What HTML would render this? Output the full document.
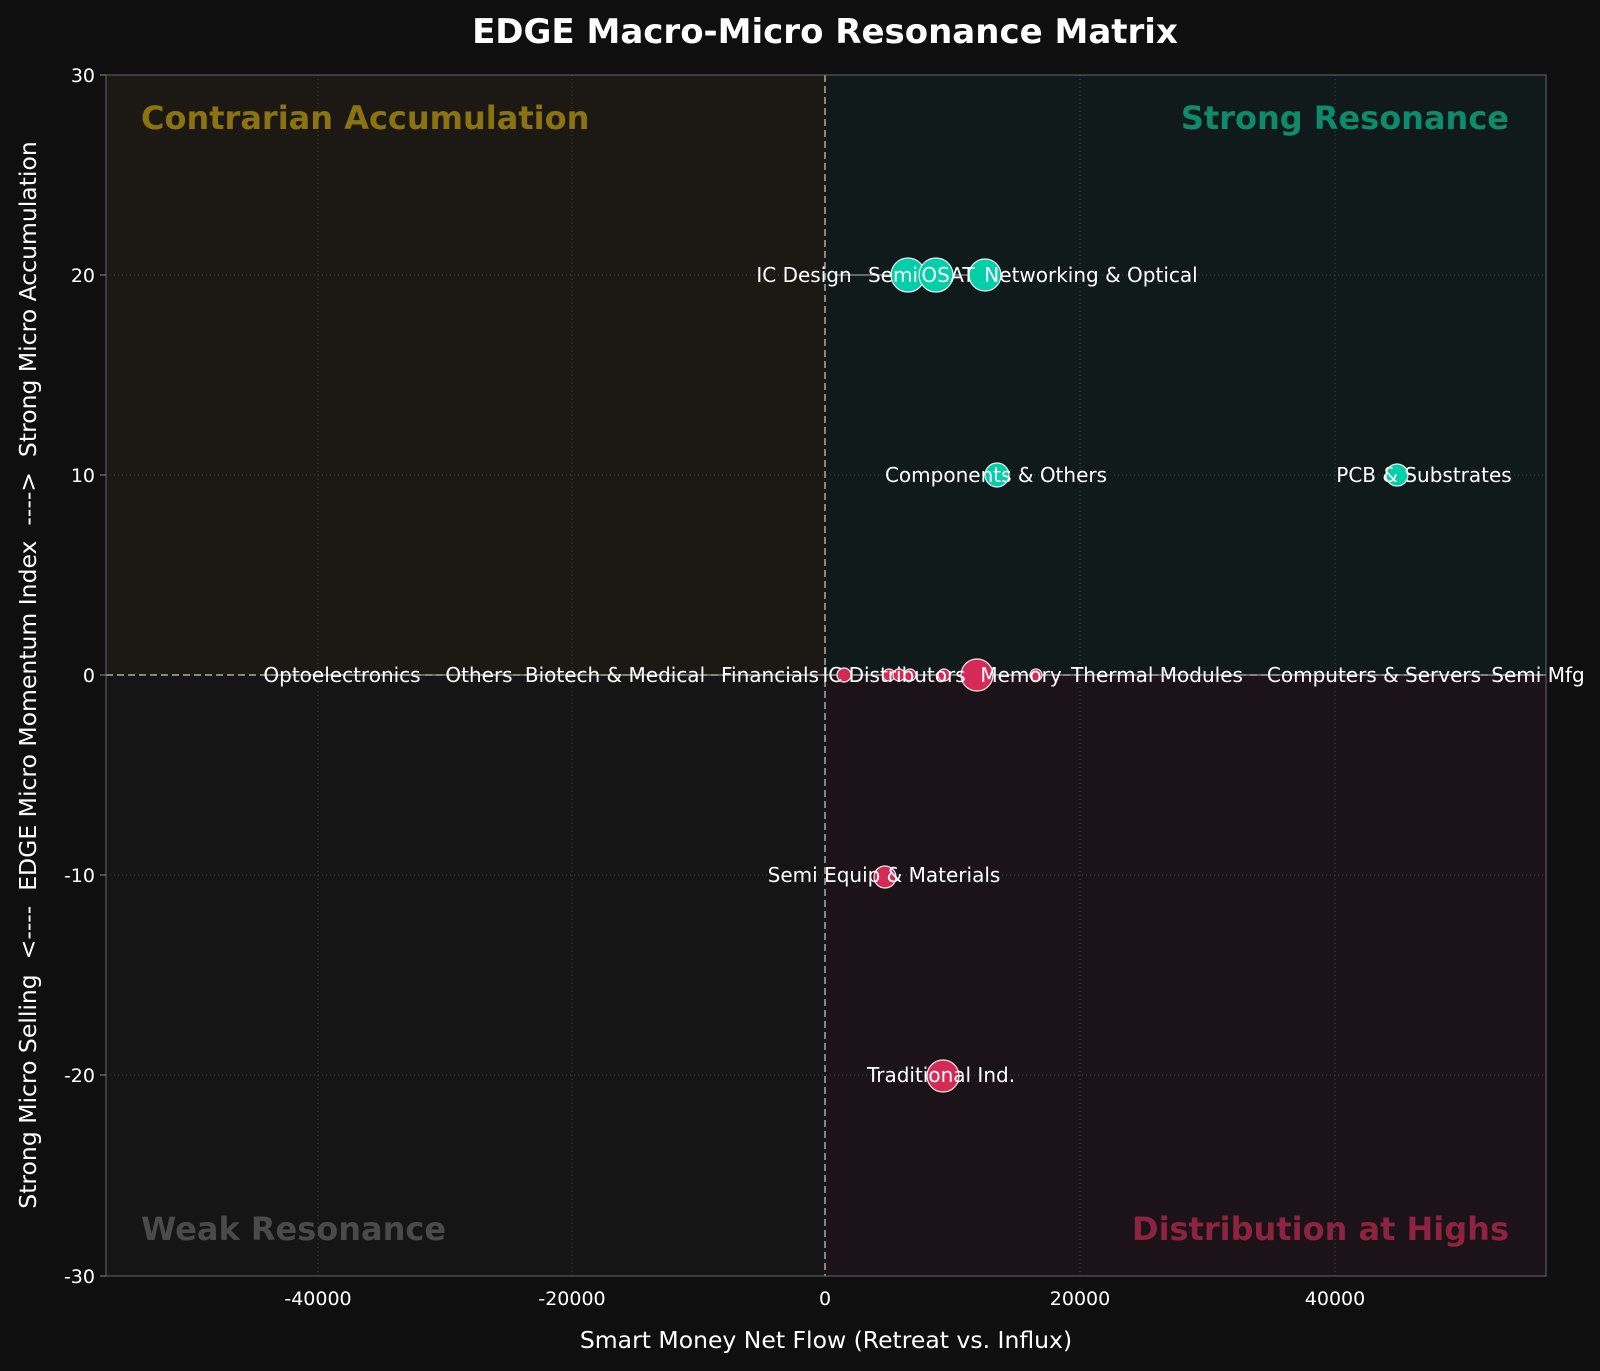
<!DOCTYPE html>
<html><head><meta charset="utf-8"><style>body{margin:0;background:#0f0f0f}svg{display:block}text{font-family:"DejaVu Sans","Liberation Sans",sans-serif}</style></head>
<body>
<svg width="1600" height="1371" viewBox="0 0 1600 1371" xmlns="http://www.w3.org/2000/svg">
<rect width="1600" height="1371" fill="#0f0f0f"/>
<text x="825" y="43" fill="#fff" font-size="34" font-weight="bold" text-anchor="middle">EDGE Macro-Micro Resonance Matrix</text>
<rect x="106" y="75" width="1440" height="1201" fill="#151515"/>
<rect x="106" y="75" width="719" height="600" fill="#1c1914"/>
<rect x="825" y="75" width="721" height="600" fill="#111a1a"/>
<rect x="825" y="675" width="721" height="601" fill="#1b1317"/>
<g stroke="#444" stroke-dasharray="1,3" stroke-width="1">
<line x1="318" y1="75" x2="318" y2="1276"/><line x1="572" y1="75" x2="572" y2="1276"/><line x1="1080" y1="75" x2="1080" y2="1276"/><line x1="1335" y1="75" x2="1335" y2="1276"/>
<line x1="106" y1="275" x2="1546" y2="275"/><line x1="106" y1="475" x2="1546" y2="475"/><line x1="106" y1="875" x2="1546" y2="875"/><line x1="106" y1="1075" x2="1546" y2="1075"/>
</g>
<line x1="106" y1="675" x2="1546" y2="675" stroke="#aaa" stroke-width="1.5" stroke-dasharray="7,4"/>
<line x1="825" y1="75" x2="825" y2="1276" stroke="#aaa" stroke-width="1.5" stroke-dasharray="7,4"/>
<rect x="106" y="75" width="1440" height="1201" fill="none" stroke="#666" stroke-width="1"/>
<text x="141" y="129" fill="#8a7310" font-size="32" font-weight="bold">Contrarian Accumulation</text>
<text x="1509" y="129" fill="#0e8a6c" font-size="32" font-weight="bold" text-anchor="end">Strong Resonance</text>
<text x="141" y="1240" fill="#4a4a4a" font-size="32" font-weight="bold">Weak Resonance</text>
<text x="1509" y="1240" fill="#8c2340" font-size="32" font-weight="bold" text-anchor="end">Distribution at Highs</text>
<g stroke="#999" stroke-width="1.3">
<line x1="262" y1="675" x2="1546" y2="675"/>
<line x1="835" y1="275" x2="1000" y2="275"/>
</g>
<g stroke="#eee" stroke-width="1.2">
<circle cx="908" cy="275" r="17" fill="#00cfa8"/>
<circle cx="936" cy="275" r="17" fill="#00cfa8"/>
<circle cx="985" cy="275" r="16" fill="#00cfa8"/>
<circle cx="997" cy="475" r="12" fill="#00cfa8"/>
<circle cx="1397" cy="475" r="11" fill="#00cfa8"/>
<circle cx="844" cy="675" r="7" fill="#d42a55"/>
<circle cx="889" cy="675" r="6" fill="#d42a55"/>
<circle cx="899" cy="675" r="6" fill="#d42a55"/>
<circle cx="910" cy="675" r="6" fill="#d42a55"/>
<circle cx="944" cy="675" r="6" fill="#d42a55"/>
<circle cx="977" cy="675" r="16" fill="#d42a55"/>
<circle cx="1036" cy="675" r="6" fill="#d42a55"/>
<circle cx="885" cy="877" r="11" fill="#d42a55"/>
<circle cx="943" cy="1076" r="16" fill="#d42a55"/>
</g>
<g fill="#fff" font-size="20" text-anchor="middle">
<text x="804" y="282">IC Design</text><text x="893" y="282">Semi</text><text x="948" y="282">OSAT</text><text x="1091" y="282">Networking &amp; Optical</text>
<text x="996" y="482">Components &amp; Others</text><text x="1424" y="482">PCB &amp; Substrates</text>
<text x="342" y="682">Optoelectronics</text><text x="479" y="682">Others</text><text x="615" y="682">Biotech &amp; Medical</text><text x="770" y="682">Financials</text><text x="894" y="682">IC Distributors</text><text x="1021" y="682">Memory</text><text x="1157" y="682">Thermal Modules</text><text x="1374" y="682">Computers &amp; Servers</text><text x="1538" y="682">Semi Mfg</text>
<text x="884" y="882">Semi Equip &amp; Materials</text><text x="941" y="1082">Traditional Ind.</text>
</g>
<g fill="#fff" font-size="19">
<g text-anchor="end"><text x="95" y="82">30</text><text x="95" y="282">20</text><text x="95" y="482">10</text><text x="95" y="682">0</text><text x="95" y="882">-10</text><text x="95" y="1082">-20</text><text x="95" y="1283">-30</text></g>
<g text-anchor="middle"><text x="318" y="1305">-40000</text><text x="572" y="1305">-20000</text><text x="825" y="1305">0</text><text x="1080" y="1305">20000</text><text x="1335" y="1305">40000</text></g>
<text x="826" y="1348" font-size="23.5" text-anchor="middle">Smart Money Net Flow (Retreat vs. Influx)</text>
<text transform="translate(36,675) rotate(-90)" font-size="23.5" text-anchor="middle" xml:space="preserve">Strong Micro Selling  &lt;----  EDGE Micro Momentum Index  ----&gt;  Strong Micro Accumulation</text>
</g>
<g stroke="#888"><line x1="100" y1="75" x2="106" y2="75"/><line x1="100" y1="275" x2="106" y2="275"/><line x1="100" y1="475" x2="106" y2="475"/><line x1="100" y1="675" x2="106" y2="675"/><line x1="100" y1="875" x2="106" y2="875"/><line x1="100" y1="1075" x2="106" y2="1075"/><line x1="100" y1="1276" x2="106" y2="1276"/></g>
</svg>
</body></html>
